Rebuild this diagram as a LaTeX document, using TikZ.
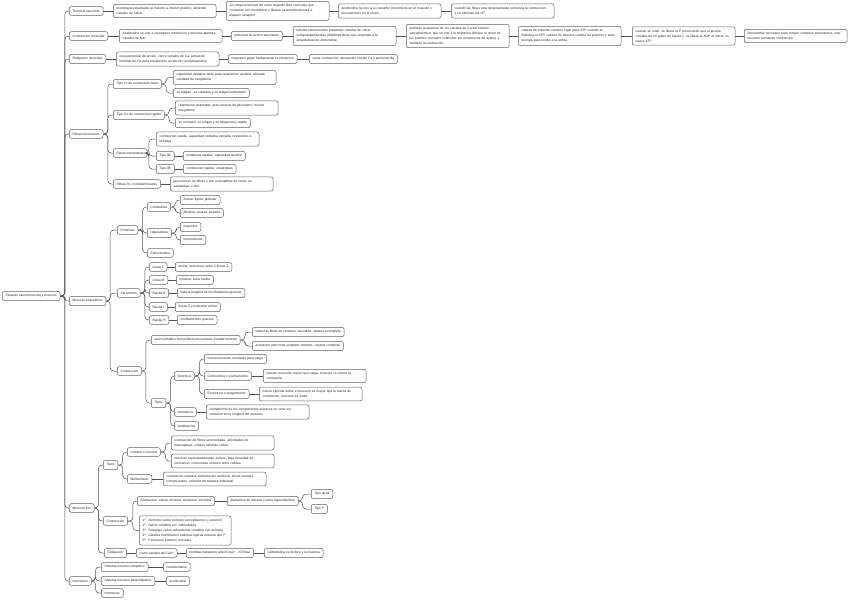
\documentclass[tikz,border=0pt]{standalone}
\usepackage{fontspec}
\setmainfont{Liberation Sans}
\usepackage{tikz}
\definecolor{framegray}{HTML}{626262}
\definecolor{edgegray}{HTML}{505050}
\newcommand\mapfont{\fontsize{3.3}{5}\selectfont}

\begin{document}
\begin{tikzpicture}[x=1pt,y=-1pt,
  box/.style={draw=framegray, line width=0.5pt, rounded corners=2pt, fill=white,
    anchor=west, align=left, inner xsep=3.4pt, inner ysep=3pt,
    minimum height=8.6pt, font=\mapfont, text=black!85},
  wide/.style={box, text width=96pt},
  link/.style={draw=edgegray, line width=0.5pt, rounded corners=3.5pt}]
  \useasboundingbox (0,0) rectangle (848,600);
  \node[box] (root) at (2,296) {Sinapsis neuromuscular y musculo};
  \node[box] (tn) at (69,11) {Terminal neuronas};
  \node[box] (cm) at (69,36) {Contraccion muscular};
  \node[box] (rm) at (69,59) {Relajacion muscular};
  \node[box] (fm) at (69,134) {Fibras musculares};
  \node[box] (me) at (69,301) {Musculo esqueletico};
  \node[box] (ml) at (69,508) {Musculo liso};
  \node[box] (inv) at (69,581) {Inervacion};
  \node[wide] (tn1) at (113,11) {membrana polarizada se invierte a interior positivo, abriendo\\canales de calcio};
  \node[wide] (tn2) at (226,11) {se rompe proteinas de union dejando libre vesiculas que\\contactan con membrana y liberan neurotransmisores a\\espacio sinaptico};
  \node[wide] (tn3) at (338,11) {acetilcolina se une a su receptor (nicotinicos en el musculo y\\muscarinicos en el resto)};
  \node[wide] (tn4) at (451,11) {cuando las fibras esta despolarizada comienza la contraccion\\y se eliminan los NT};
  \node[wide] (cm1) at (119,36) {Acetilcolina se une a receptores nicotinicos y provoca apertura\\canales de Na+};
  \node[box] (cm2) at (231,36) {potencial de accion sarcolema};
  \node[wide] (cm3) at (293,36) {tubulos trasnversales presentan canales de calcio\\voltajedependientes (dihidropiridina) que responde a la\\despolarizacion abriendose};
  \node[wide] (cm4) at (406,36) {estimula la apertura de los canales de Ca del reticulo\\sarcoplasmico, que se une a la troponina (bloque la union de\\los puentes cruzados cubriendo los monomeros de actina) y\\estimula la contraccion};
  \node[wide] (cm5) at (518,36) {cabeza de miosina contiene lugar para ATP cuando se\\hidroliza el ATP, cabeza de miosina cambia de posicion y tiene\\energia para unirse a la actina};
  \node[wide] (cm6) at (632,36) {cuando se unen, se libera el P provocando que el puente\\cruzado de un golpe de fuerza y \ se libera el ADP al unirse un\\nuevo ATP};
  \node[wide] (cm7) at (744,36) {intercambio necesario para romper complejo actomiosina, sino\\musculo constante contraccion};
  \node[wide] (rm1) at (116,59) {cesa potencial de accion, cierre canales de Ca, actuacion\\bombas de Ca para trasportarlo al reticulo sarcoplasmatico};
  \node[box] (rm2) at (228,59) {magnesio papel fundamental en relajacion};
  \node[box] (rm3) at (309,59) {cesar contraccion: descender niveles Ca y aumenta Mg};
  \node[box] (t1) at (113,84) {Tipo I o de contraccion lenta};
  \node[wide] (t1a) at (173,77.5) {capacidad oxidativa lenta para respiracion aerobia, elevada\\cantidad de mioglobina};
  \node[box] (t1b) at (173,93) {se fatigan , se contraen y se relajan lentamente};
  \node[box] (t2) at (113,115) {Tipo II o de contraccion rapida};
  \node[wide] (t2a) at (175,108) {respiracion anaerobia, gran reserva de glucogeno, menos\\mioglobina};
  \node[box] (t2b) at (175,123) {se contraen, se relajan y se fatigan muy rapido};
  \node[box] (fi) at (113,153) {Fibras intermedias};
  \node[wide] (fi1) at (156,139) {contraccion rapida, capacidad oxidativa elevada, resistentes a\\la fatiga};
  \node[box] (fi2) at (156,156) {Tipo IIA};
  \node[box] (fi2a) at (183,156) {oxidativas rapidas, capacidad aerobia};
  \node[box] (fi3) at (156,169) {Tipo IIB};
  \node[box] (fi3a) at (183,169) {contraccion rapida , anaerobias};
  \node[box] (ic) at (113,184) {Fibras IIC o indeterminadas};
  \node[wide] (ic1) at (170,184) {precursores de fibras y son suscepibles de tomar un\\somatotipo u otro};
  \node[box] (pr) at (117,230) {Proteinas};
  \node[box] (ct) at (147,207) {contractiles};
  \node[box] (ac) at (180,200) {Actina: ligera, globular};
  \node[box] (mi) at (180,213) {Miosina: gruesa, pesada};
  \node[box] (rg) at (147,233) {reguladoras};
  \node[box] (tp) at (180,227) {troponina};
  \node[box] (tm) at (180,240) {tropomiosina};
  \node[box] (es) at (147,253) {Estructurales};
  \node[box] (sa) at (117,293) {Sarcomero};
  \node[box] (lz) at (149,267) {Linea Z};
  \node[box] (lza) at (175,267) {actina, sarcomero entre 2 lineas Z};
  \node[box] (lm) at (149,280) {Linea M};
  \node[box] (lma) at (176,280) {miosina, zona media};
  \node[box] (ba) at (149,293) {Banda A};
  \node[box] (baa) at (177,293) {toda la longitud de los filamentos gruesos};
  \node[box] (bi) at (149,307) {Banda I};
  \node[box] (bia) at (175,307) {lineas Z y extremos actina};
  \node[box] (bh) at (149,320) {Banda H};
  \node[box] (bha) at (177,320) {miofilamentos gruesos};
  \node[box] (co) at (117,371) {Contraccion};
  \node[box] (ax) at (151,340) {axon somatico inerva fibras musculares (unidad motora)};
  \node[box] (ax1) at (252,332) {todas las fibras se contraen, sacudida - tetania incompleta};
  \node[box] (ax2) at (252,346) {activacion asincrona unidades motoras - tetania completa};
  \node[box] (ti) at (151,403) {Tipos};
  \node[box] (iso) at (174,376) {Isotonica};
  \node[box] (f1) at (204,359) {fuerza muscular constante para carga};
  \node[box] (f2) at (204,376) {Concentrica o acortamiento};
  \node[wide] (f2a) at (263,376) {tension muscular mayor que carga, musculo se acorta al\\contraerse};
  \node[box] (f3) at (204,394) {Excentrica o alargamiento};
  \node[wide] (f3a) at (259,394) {fuerza ejercida sobre el musculo es mayor que la fuerza de\\contraccion, musculo se estira};
  \node[box] (ism) at (174,412) {Isometrica};
  \node[wide] (ism1) at (206,412) {estiramiento de los componentes elasticos en serie sin\\variacion en la longitud del musculo};
  \node[box] (isd) at (174,426) {Isodinamica};
  \node[box] (mt) at (103,465) {Tipos};
  \node[box] (uv) at (127,452) {Unitario o visceral};
  \node[wide] (uv1) at (171,443) {contraccion de fibras sincronizada, actividades de\\marcapasos, celulas estimula celula};
  \node[wide] (uv2) at (171,461) {musculo espontaneamente activos, baja densidad de\\inervacion, numerosas uniones entre celulas};
  \node[box] (mu) at (127,479) {Multiunitario};
  \node[wide] (mu1) at (163,479) {contraccion requiere estimulacion nerviosa, pocas uniones\\comunicantes, estimula de manera individual};
  \node[box] (mc) at (103,521) {Contraccion};
  \node[box] (fl) at (137,501) {Filamentos: actina, miosina, vimentina, desmina};
  \node[box] (fm2) at (227,501) {filamentos de miosina (calcio dependientes)};
  \node[box] (ta) at (311,494) {Tipo alcali};
  \node[box] (tpp) at (311,509) {Tipo P};
  \node[box, text width=85pt] (st) at (139,530.5) {1º: Aumento calcio (reticulo sarcoplasmico y exterior)\\2º: Calcio combina con calmodulina\\3º: Complejo calcio-calmodulina combina con quinasa\\4º: Cataliza fosforilacion cadenas ligeras miosina tipo P\\5º: Formacion puentes cruzados};
  \node[box] (mr) at (104,553) {Relajacion};
  \node[box] (cc) at (136,553) {cierre canales de Ca2+};
  \node[box] (bo) at (186,553) {bombas transporte activo Ca2+ - ATPasa};
  \node[box] (cal) at (264,553) {calmodulina se fosfora y se inactiva};
  \node[box] (sim) at (101,567) {Sistema nervioso simpatico};
  \node[box] (nor) at (163,567) {noradrenalina};
  \node[box] (par) at (101,581) {Sistema nervioso parasimpatico};
  \node[box] (ace) at (166,581) {acetilcolina};
  \node[box] (hor) at (101,593) {Hormonas};

  \draw[link] (root.east) -- ++(4.5,0) |- (tn.west);
  \draw[link] (root.east) -- ++(4.5,0) |- (cm.west);
  \draw[link] (root.east) -- ++(4.5,0) |- (rm.west);
  \draw[link] (root.east) -- ++(4.5,0) |- (fm.west);
  \draw[link] (root.east) -- ++(4.5,0) |- (me.west);
  \draw[link] (root.east) -- ++(4.5,0) |- (ml.west);
  \draw[link] (root.east) -- ++(4.5,0) |- (inv.west);
  \draw[link] (tn.east) -- (tn1.west);
  \draw[link] (tn1.east) -- (tn2.west);
  \draw[link] (tn2.east) -- (tn3.west);
  \draw[link] (tn3.east) -- (tn4.west);
  \draw[link] (cm.east) -- (cm1.west);
  \draw[link] (cm1.east) -- (cm2.west);
  \draw[link] (cm2.east) -- (cm3.west);
  \draw[link] (cm3.east) -- (cm4.west);
  \draw[link] (cm4.east) -- (cm5.west);
  \draw[link] (cm5.east) -- (cm6.west);
  \draw[link] (cm6.east) -- (cm7.west);
  \draw[link] (rm.east) -- (rm1.west);
  \draw[link] (rm1.east) -- (rm2.west);
  \draw[link] (rm2.east) -- (rm3.west);
  \draw[link] (fm.east) -- ++(4.5,0) |- (t1.west);
  \draw[link] (fm.east) -- ++(4.5,0) |- (t2.west);
  \draw[link] (fm.east) -- ++(4.5,0) |- (fi.west);
  \draw[link] (fm.east) -- ++(4.5,0) |- (ic.west);
  \draw[link] (t1.east) -- ++(4.5,0) |- (t1a.west);
  \draw[link] (t1.east) -- ++(4.5,0) |- (t1b.west);
  \draw[link] (t2.east) -- ++(4.5,0) |- (t2a.west);
  \draw[link] (t2.east) -- ++(4.5,0) |- (t2b.west);
  \draw[link] (fi.east) -- ++(1.5,0) |- (fi1.west);
  \draw[link] (fi.east) -- ++(1.5,0) |- (fi2.west);
  \draw[link] (fi.east) -- ++(1.5,0) |- (fi3.west);
  \draw[link] (fi2.east) -- (fi2a.west);
  \draw[link] (fi3.east) -- (fi3a.west);
  \draw[link] (ic.east) -- (ic1.west);
  \draw[link] (me.east) -- ++(4,0) |- (pr.west);
  \draw[link] (me.east) -- ++(4,0) |- (sa.west);
  \draw[link] (me.east) -- ++(4,0) |- (co.west);
  \draw[link] (pr.east) -- ++(4.5,0) |- (ct.west);
  \draw[link] (pr.east) -- ++(4.5,0) |- (rg.west);
  \draw[link] (pr.east) -- ++(4.5,0) |- (es.west);
  \draw[link] (ct.east) -- ++(4.5,0) |- (ac.west);
  \draw[link] (ct.east) -- ++(4.5,0) |- (mi.west);
  \draw[link] (rg.east) -- ++(4.5,0) |- (tp.west);
  \draw[link] (rg.east) -- ++(4.5,0) |- (tm.west);
  \draw[link] (sa.east) -- ++(4.5,0) |- (lz.west);
  \draw[link] (sa.east) -- ++(4.5,0) |- (lm.west);
  \draw[link] (sa.east) -- ++(4.5,0) |- (ba.west);
  \draw[link] (sa.east) -- ++(4.5,0) |- (bi.west);
  \draw[link] (sa.east) -- ++(4.5,0) |- (bh.west);
  \draw[link] (lz.east) -- (lza.west);
  \draw[link] (lm.east) -- (lma.west);
  \draw[link] (ba.east) -- (baa.west);
  \draw[link] (bi.east) -- (bia.west);
  \draw[link] (bh.east) -- (bha.west);
  \draw[link] (co.east) -- ++(4,0) |- (ax.west);
  \draw[link] (co.east) -- ++(4,0) |- (ti.west);
  \draw[link] (ax.east) -- ++(4.5,0) |- (ax1.west);
  \draw[link] (ax.east) -- ++(4.5,0) |- (ax2.west);
  \draw[link] (ti.east) -- ++(4.5,0) |- (iso.west);
  \draw[link] (ti.east) -- ++(4.5,0) |- (ism.west);
  \draw[link] (ti.east) -- ++(4.5,0) |- (isd.west);
  \draw[link] (iso.east) -- ++(5,0) |- (f1.west);
  \draw[link] (iso.east) -- ++(5,0) |- (f2.west);
  \draw[link] (iso.east) -- ++(5,0) |- (f3.west);
  \draw[link] (f2.east) -- (f2a.west);
  \draw[link] (f3.east) -- (f3a.west);
  \draw[link] (ism.east) -- (ism1.west);
  \draw[link] (ml.east) -- ++(4,0) |- (mt.west);
  \draw[link] (ml.east) -- ++(4,0) |- (mc.west);
  \draw[link] (ml.east) -- ++(4,0) |- (mr.west);
  \draw[link] (mt.east) -- ++(4.5,0) |- (uv.west);
  \draw[link] (mt.east) -- ++(4.5,0) |- (mu.west);
  \draw[link] (uv.east) -- ++(5,0) |- (uv1.west);
  \draw[link] (uv.east) -- ++(5,0) |- (uv2.west);
  \draw[link] (mu.east) -- (mu1.west);
  \draw[link] (mc.east) -- ++(5,0) |- (fl.west);
  \draw[link] (mc.east) -- ++(5,0) |- (st.west);
  \draw[link] (fl.east) -- (fm2.west);
  \draw[link] (fm2.east) -- ++(4,0) |- (ta.west);
  \draw[link] (fm2.east) -- ++(4,0) |- (tpp.west);
  \draw[link] (mr.east) -- (cc.west);
  \draw[link] (cc.east) -- (bo.west);
  \draw[link] (bo.east) -- (cal.west);
  \draw[link] (inv.east) -- ++(4,0) |- (sim.west);
  \draw[link] (inv.east) -- ++(4,0) |- (par.west);
  \draw[link] (inv.east) -- ++(4,0) |- (hor.west);
  \draw[link] (sim.east) -- (nor.west);
  \draw[link] (par.east) -- (ace.west);
\end{tikzpicture}
\end{document}
